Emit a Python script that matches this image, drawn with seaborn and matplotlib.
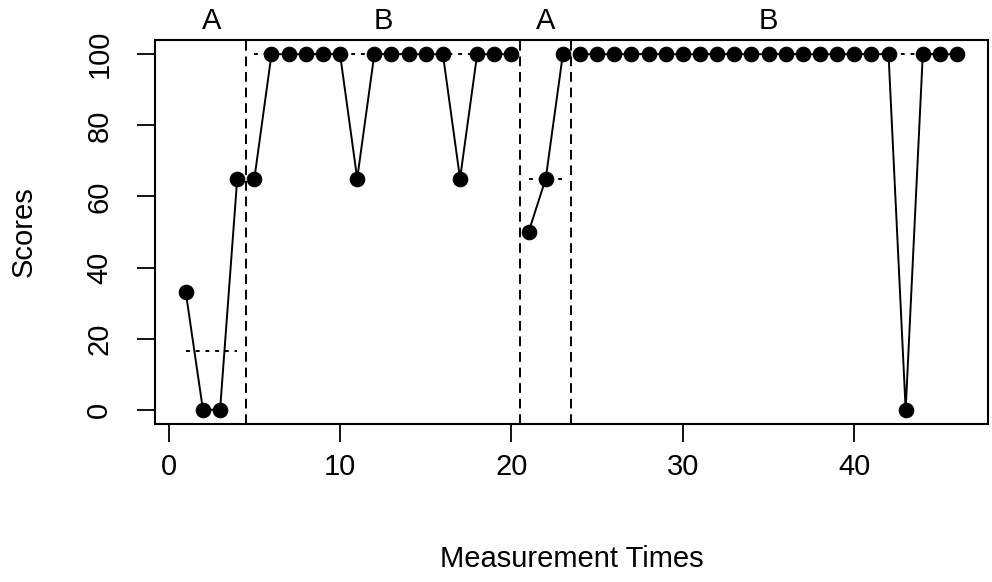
import numpy as np
import pandas as pd
import seaborn as sns
import matplotlib.pyplot as plt
from matplotlib.patches import Rectangle

# measurement scores per phase (A = baseline, B = intervention)
phases = ['A', 'B', 'A', 'B']
a1_scores = [33, 0, 0, 65]
b1_scores = [65, 100, 100, 100, 100, 100, 65, 100, 100, 100, 100, 100, 65, 100, 100, 100]
a2_scores = [50, 65, 100]
b2_scores = [100] * 19 + [0] + [100] * 3

phase_scores = [a1_scores, b1_scores, a2_scores, b2_scores]

rows = []
t = 1
for i, sc in enumerate(phase_scores):
    for s in sc:
        rows.append({'time': t, 'score': s, 'segment': i})
        t += 1
df = pd.DataFrame(rows)

sns.set_style('white')
plt.rcParams['font.family'] = ['Liberation Sans', 'DejaVu Sans']
plt.rcParams['text.color'] = 'black'
plt.rcParams['axes.labelcolor'] = 'black'
plt.rcParams['xtick.color'] = 'black'
plt.rcParams['ytick.color'] = 'black'

fig = plt.figure(figsize=(9.92, 5.82), dpi=100)
ax = fig.add_axes([0.1562, 0.2715, 0.8397, 0.6598])

sns.lineplot(data=df, x='time', y='score', units='segment', estimator=None,
             color='black', marker='o', markersize=10.5, markeredgecolor='black',
             linewidth=1.4, ax=ax, legend=False)

# median line in each phase and phase change lines
for i in range(len(phase_scores)):
    seg = df[df['segment'] == i]
    med = np.median(seg['score'])
    x0, x1 = seg['time'].min(), seg['time'].max()
    ax.plot([x0, x1], [med, med], color='black', lw=1.4, linestyle=(0, (2, 3)), zorder=1)
    ax.text((x0 + x1) / 2, 1.05, phases[i], transform=ax.get_xaxis_transform(),
            ha='center', va='center', fontsize=21)
    if i > 0:
        ax.axvline(x0 - 0.5, color='black', lw=1.4, linestyle=(0, (5, 3)), zorder=1)

ax.set_xlim(1 - 45 * 0.04, 46 + 45 * 0.04)
ax.set_ylim(-4, 104)
ax.set_xticks([0, 10, 20, 30, 40])
ax.set_yticks([0, 20, 40, 60, 80, 100])
ax.set_yticklabels(['0', '20', '40', '60', '80', '100'], rotation=90, va='center')

for sp in ax.spines.values():
    sp.set_visible(False)
ax.add_patch(Rectangle((0, 0), 1, 1, transform=ax.transAxes, fill=False,
                       edgecolor='black', lw=1.5, clip_on=False, zorder=5))

ax.tick_params(axis='both', which='major', direction='out', length=13, width=1.3,
               color='black', labelsize=21, left=True, bottom=True)
ax.tick_params(axis='x', pad=8)
ax.tick_params(axis='y', pad=17)

ax.set_xlabel('Measurement Times', fontsize=21, labelpad=46)
ax.set_ylabel('Scores', fontsize=21, labelpad=34)

fig.savefig('out.png', dpi=100)
